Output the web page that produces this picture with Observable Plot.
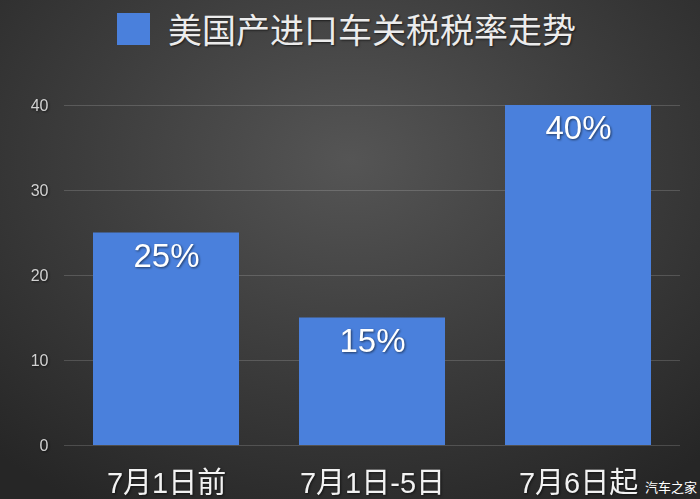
<!DOCTYPE html>
<html><head><meta charset="utf-8">
<script src="https://cdn.jsdelivr.net/npm/d3@7"></script>
<script src="https://cdn.jsdelivr.net/npm/@observablehq/plot@0.6"></script>
<style>
html,body{margin:0;padding:0;width:700px;height:499px;overflow:hidden;}
body{background: radial-gradient(ellipse 75% 80% at 50% 32%, #555555 0%, #3d3d3d 50%, #262626 100%); font-family:"Liberation Sans","Noto Sans CJK SC",sans-serif; position:relative;}
#legend{height:60px; position:relative;}
#legend .sw{position:absolute; left:117px; top:13px; width:33px; height:32px; background:#4a80dc;}
#legend .lt{position:absolute; left:168px; top:8px; font-size:34px; line-height:42px; color:#ececec; font-family:"Noto Sans CJK SC",sans-serif; text-shadow:1px 1px 2px rgba(0,0,0,.6); white-space:nowrap;}
#wm{position:absolute; left:645px; top:479px; font-size:13px; line-height:16px; color:#fff; font-family:"Noto Sans CJK SC",sans-serif; white-space:nowrap;}
svg text{filter:drop-shadow(1px 1px 1px rgba(0,0,0,.55));}
</style></head>
<body>
<div id="legend"><div class="sw"></div><div class="lt">美国产进口车关税税率走势</div></div>
<div id="chart"></div>
<div id="wm">汽车之家</div>
<script>
const categories = ["7月1日前", "7月1日-5日", "7月6日起"];
const rates = [25, 15, 40];
const rateLabels = ["25%", "15%", "40%"];
const yTicks = [0, 10, 20, 30, 40];

const data = categories.map((c, i) => ({cat: c, rate: rates[i], label: rateLabels[i]}));
const ff = "Liberation Sans, Noto Sans CJK SC, sans-serif";

const chart = Plot.plot({
  width: 700,
  height: 439,
  marginLeft: 64,
  marginRight: 20,
  marginTop: 45,
  marginBottom: 54,
  style: {background: "transparent", fontFamily: ff, color: "#d0d0d0", overflow: "visible"},
  x: {domain: categories, paddingInner: 0.29, paddingOuter: 0.135, label: null},
  y: {domain: [0, 40], label: null},
  marks: [
    Plot.gridY(yTicks, {stroke: "#ffffff", strokeOpacity: 0.16, strokeWidth: 1}),
    Plot.barY(data, {x: "cat", y: "rate", fill: "#4a80dc"}),
    Plot.axisY(yTicks, {tickSize: 0, tickPadding: 16, fontSize: 16, fill: "#d2d2d2", label: null}),
    Plot.axisX({tickSize: 0, tickPadding: 27, fontSize: 29, fill: "#f2f2f2", label: null}),
    Plot.text(data, {x: "cat", y: "rate", text: "label", dy: 23, fill: "#ffffff", fontSize: 33})
  ]
});
document.getElementById("chart").appendChild(chart);
</script>
</body></html>
